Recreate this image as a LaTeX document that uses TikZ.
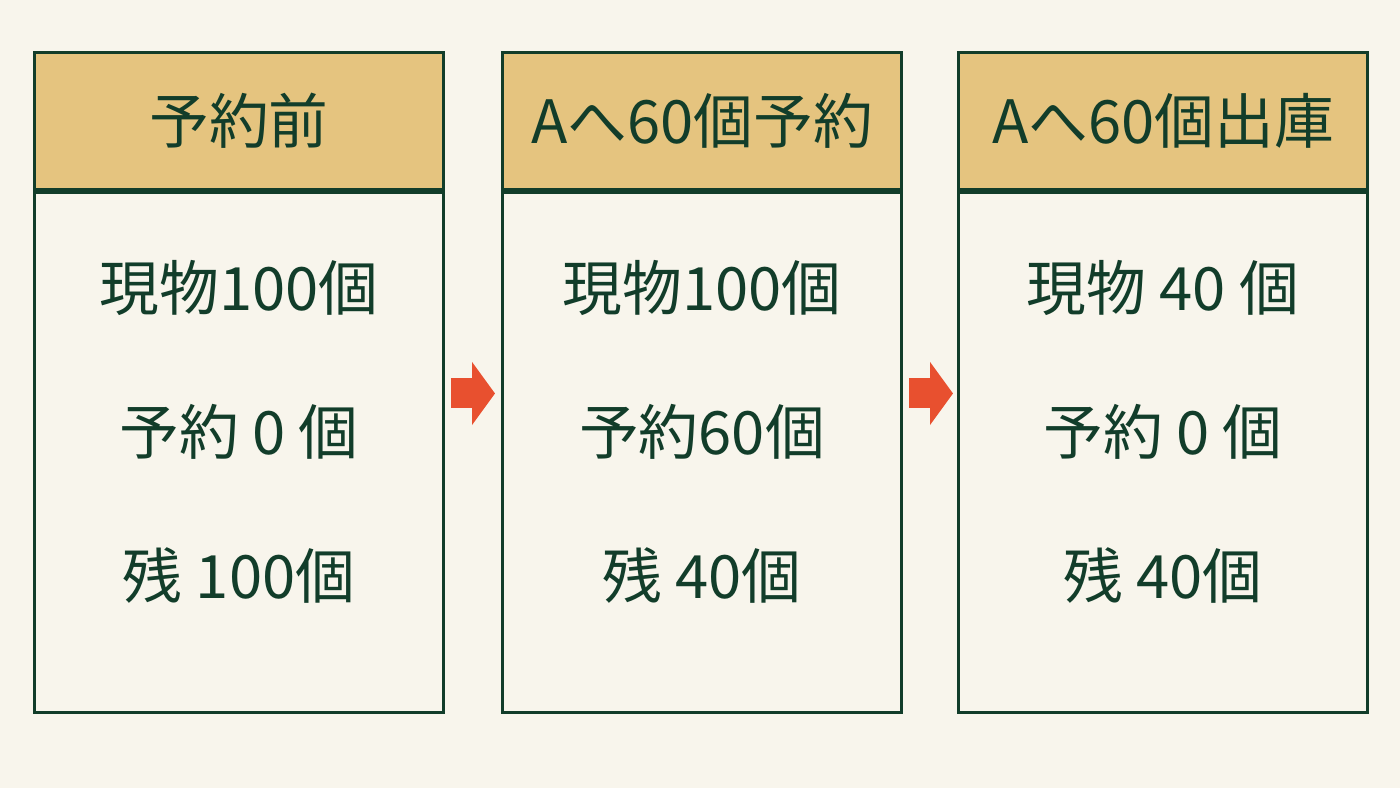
\documentclass[tikz,border=0pt]{standalone}
\usepackage{fontspec}
\newfontfamily\jp{Noto Sans CJK JP}
\usetikzlibrary{arrows.meta}
\definecolor{paper}{HTML}{F8F5EC}
\definecolor{ink}{HTML}{123D2A}
\definecolor{gold}{HTML}{E5C47F}
\definecolor{flame}{HTML}{E8502F}
\tikzset{
  head/.style={draw=ink,line width=1.7pt,fill=gold,text=ink,minimum width=8.18cm,minimum height=2.74cm,anchor=north west,inner sep=0pt,font=\jp\fontsize{34}{40}\selectfont},
  body/.style={draw=ink,line width=1.7pt,fill=paper,minimum width=8.18cm,minimum height=10.4cm,anchor=north,inner sep=0pt},
  rows/.style={text=ink,align=center,inner sep=0pt,font=\jp\fontsize{34}{82}\selectfont},
  flow/.style={line width=0.6cm,draw=flame,-{Triangle[width=1.24cm,length=0.46cm]}}
}
\begin{document}
\begin{tikzpicture}
    \fill[paper] (0,0) rectangle (28,15.76);
    \useasboundingbox (0,0) rectangle (28,15.76);

    % — Headers
    \node[head] (h1) at (0.66, 14.74) {予約前};
    \node[head,minimum width=7.98cm] (h2) at (10.02, 14.74) {Aへ60個予約};
    \node[head] (h3) at (19.14, 14.74) {Aへ60個出庫};

    % — Bodies under each header
    \node[body] (b1) at (h1.south) {};
    \node[body,minimum width=7.98cm] (b2) at (h2.south) {};
    \node[body] (b3) at (h3.south) {};

    % — Stock figures
    \node[rows] (t1) at ([yshift=0.42cm]b1.center) {現物100個\\予約 0 個\\残 100個};
    \node[rows] (t2) at ([yshift=0.42cm]b2.center) {現物100個\\予約60個\\残 40個};
    \node[rows] (t3) at ([yshift=0.42cm]b3.center) {現物 40 個\\予約 0 個\\残 40個};

    % — Steps
    \draw[flow] ([xshift=0.12cm,yshift=1.18cm]b1.east) -- ([xshift=-0.12cm,yshift=1.18cm]b2.west);
    \draw[flow] ([xshift=0.12cm,yshift=1.18cm]b2.east) -- ([xshift=-0.08cm,yshift=1.18cm]b3.west);
\end{tikzpicture}
\end{document}
